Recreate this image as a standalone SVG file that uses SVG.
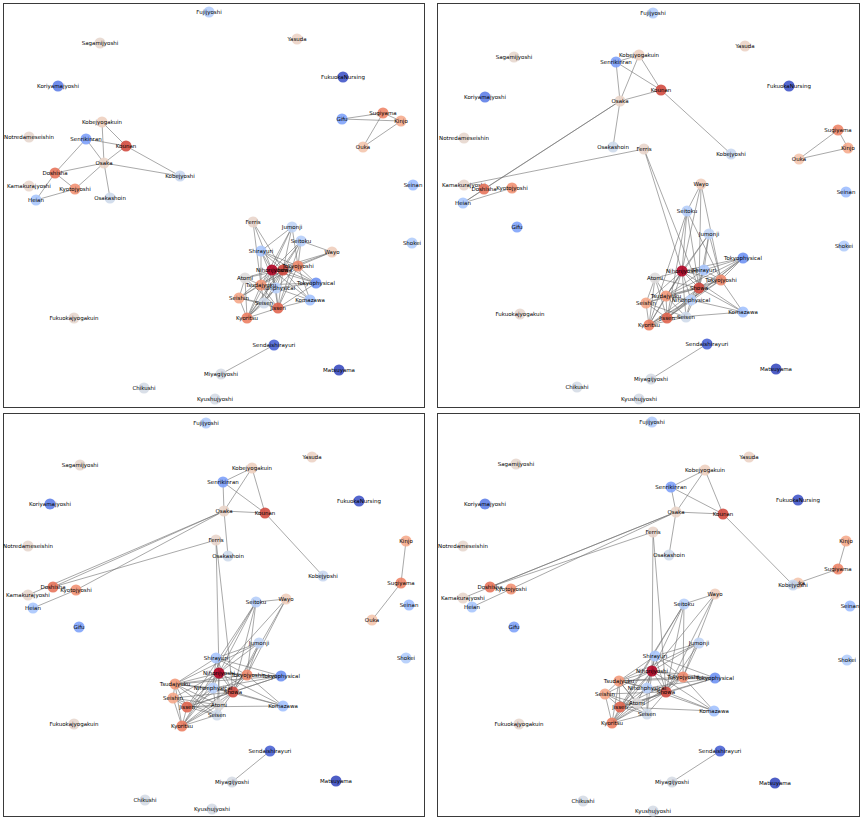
<svg xmlns="http://www.w3.org/2000/svg" width="864" height="820" viewBox="0 0 864 820">
<style>
.bg{fill:#fff}
.frame{fill:none;stroke:#3a3a3a;stroke-width:1}
.e{fill:none;stroke:#6e6e6e;stroke-width:0.8;stroke-opacity:0.75}
.n circle{r:5.5px;fill-opacity:0.9}
.n text{font-family:"DejaVu Sans","Liberation Sans",sans-serif;font-size:5.5px;fill:#000;text-anchor:middle;dominant-baseline:central}
.Nihonjyoshi circle{fill:#b40426}.Showa circle{fill:#d1493f}.Kounan circle{fill:#d24b40}.Jissen circle{fill:#e0654f}
.Doshisha circle{fill:#e7745b}.Kyoritsu circle{fill:#ec7f63}.Sugiyama circle{fill:#ee8669}.Tokyojyoshi circle{fill:#f08b6e}
.Kyotojyoshi circle{fill:#f29274}.Tsudajyuku circle{fill:#f39a7b}.Seishin circle{fill:#f5a788}.Kinjo circle{fill:#f6ac8e}
.Ouka circle{fill:#f4c5ad}.Wayo circle{fill:#efcebd}.Kobejyogakuin circle{fill:#eed0c0}.Yasuda circle{fill:#ecd3c5}
.Osaka circle{fill:#ead5c9}.Ferris circle{fill:#e9d5cb}.Kamakurajyoshi circle{fill:#e8d6cc}.Sagamijyoshi circle{fill:#e7d7ce}
.Notredameseishin circle{fill:#e7d7ce}.Fukuokajyogakuin circle{fill:#e7d7ce}.Atomi circle{fill:#dedcdb}.Miyagijyoshi circle{fill:#d6dce4}
.Chikushi circle{fill:#d5dbe5}.Kyushujyoshi circle{fill:#d5dbe5}.Seisen circle{fill:#cfdaea}.Osakashoin circle{fill:#cedaeb}
.Kobejyoshi circle{fill:#c9d7f0}.Jumonji circle{fill:#c0d4f5}.Nihonphysical circle{fill:#b9d0f9}.Seitoku circle{fill:#b6cefa}
.Shokei circle{fill:#b3cdfb}.Fujijyoshi circle{fill:#b2ccfb}.Shirayuri circle{fill:#aac7fd}.Heian circle{fill:#a9c6fd}
.Komazawa circle{fill:#a3c2fe}.Seinan circle{fill:#9ebeff}.Gifu circle{fill:#80a3fa}.Senrikinran circle{fill:#7ea1fa}
.Tokyophysical circle{fill:#6f92f3}.Koriyamajyoshi circle{fill:#5f7fe8}.Sendaishirayuri circle{fill:#4b64d5}.FukuokaNursing circle{fill:#4257c9}
.Matsuyama circle{fill:#3b4cc0}
</style>
<rect class="bg" x="0" y="0" width="864" height="820"/>
<g id="frames">
<rect class="frame" x="3.5" y="3.5" width="421" height="404"/>
<rect class="frame" x="437.5" y="3.5" width="422" height="404"/>
<rect class="frame" x="3.5" y="413.5" width="421" height="403"/>
<rect class="frame" x="437.5" y="413.5" width="422" height="403"/>
</g>
<g id="connectors">
<path class="e" d="M102 122L104 163M102 122L126 146M86 139L126 146M86 139L104 163M86 139L55 173M126 146L104 163M126 146L180 176M104 163L55 173M104 163L75 189M104 163L180 176M104 163L110 198M55 173L75 189M55 173L36 200M75 189L36 200M342 119L383 113M342 119L401 121M383 113L401 121M383 113L363 147M401 121L363 147M274 345L221 374"/>
<path class="e" d="M272 270L283 270M272 270L298 266M272 270L261 285M272 270L276 288M272 270L278 308M272 270L247 318M272 270L239 298M272 270L264 303M272 270L245 278M272 270L261 251M272 270L292 227M272 270L301 241M272 270L316 283M272 270L310 300M283 270L298 266M283 270L261 285M283 270L276 288M283 270L278 308M283 270L247 318M283 270L239 298M283 270L264 303M283 270L245 278M283 270L261 251M283 270L292 227M283 270L301 241M283 270L316 283M283 270L310 300M283 270L332 252M298 266L261 285M298 266L278 308M298 266L247 318M298 266L292 227M298 266L316 283M298 266L310 300M298 266L301 241M298 266L261 251M298 266L332 252M261 285L278 308M261 285L247 318M261 285L239 298M261 285L264 303M261 285L245 278M261 285L276 288M261 285L261 251M261 285L316 283M278 308L247 318M278 308L239 298M278 308L264 303M278 308L245 278M278 308L276 288M278 308L310 300M278 308L316 283M247 318L239 298M247 318L264 303M247 318L245 278M247 318L276 288M239 298L245 278M239 298L264 303M276 288L316 283M276 288L310 300M276 288L264 303M276 288L261 251M301 241L332 252M301 241L278 308M301 241L247 318M292 227L261 251M292 227L261 285M332 252L272 270M261 251L316 283M253 222L272 270M253 222L283 270M253 222L261 285"/>
<path class="e" d="M616 62L639 55M616 62L620 101M616 62L661 90M639 55L620 101M639 55L661 90M620 101L661 90M620 101L613 147M620 101L484 189M620 101L463 203M644 149L464 185M463 203L512 188M463 203L484 189M661 90L731 154M838 130L848 148M838 130L799 159M848 148L799 159M707 344L651 379"/>
<path class="e" d="M682 271L699 288M682 271L721 280M682 271L666 296M682 271L691 300M682 271L667 318M682 271L649 325M682 271L646 303M682 271L686 317M682 271L655 278M682 271L704 270M682 271L709 234M682 271L687 211M682 271L743 258M682 271L743 312M699 288L721 280M699 288L666 296M699 288L691 300M699 288L667 318M699 288L649 325M699 288L646 303M699 288L686 317M699 288L655 278M699 288L704 270M699 288L709 234M699 288L687 211M699 288L743 258M699 288L743 312M699 288L701 184M721 280L666 296M721 280L667 318M721 280L649 325M721 280L709 234M721 280L743 258M721 280L743 312M721 280L687 211M721 280L704 270M721 280L701 184M666 296L667 318M666 296L649 325M666 296L646 303M666 296L686 317M666 296L655 278M666 296L691 300M666 296L704 270M666 296L743 258M667 318L649 325M667 318L646 303M667 318L686 317M667 318L655 278M667 318L691 300M667 318L743 312M667 318L743 258M649 325L646 303M649 325L686 317M649 325L655 278M649 325L691 300M646 303L655 278M646 303L686 317M691 300L743 258M691 300L743 312M691 300L686 317M691 300L704 270M687 211L701 184M687 211L667 318M687 211L649 325M709 234L704 270M709 234L666 296M701 184L682 271M704 270L743 258M644 149L682 271M644 149L699 288"/>
<path class="e" d="M252 468L223 482M252 468L224 511M252 468L265 513M223 482L224 511M223 482L265 513M224 511L265 513M224 511L228 556M265 513L323 576M224 511L53 587M224 511L28 595M224 511L76 590M216 540L53 587M33 608L76 590M406 541L401 583M401 583L372 620M270 751L232 782"/>
<path class="e" d="M219 673L233 692M219 673L247 675M219 673L175 684M219 673L213 688M219 673L187 707M219 673L182 726M219 673L173 698M219 673L217 715M219 673L219 705M219 673L216 658M219 673L259 643M219 673L256 602M219 673L281 676M219 673L283 706M233 692L247 675M233 692L175 684M233 692L213 688M233 692L187 707M233 692L182 726M233 692L173 698M233 692L217 715M233 692L219 705M233 692L216 658M233 692L259 643M233 692L256 602M233 692L281 676M233 692L283 706M233 692L286 599M247 675L175 684M247 675L187 707M247 675L182 726M247 675L259 643M247 675L281 676M247 675L283 706M247 675L256 602M247 675L216 658M247 675L286 599M175 684L187 707M175 684L182 726M175 684L173 698M175 684L217 715M175 684L219 705M175 684L213 688M175 684L216 658M175 684L281 676M187 707L182 726M187 707L173 698M187 707L217 715M187 707L219 705M187 707L213 688M187 707L283 706M187 707L281 676M182 726L173 698M182 726L217 715M182 726L219 705M182 726L213 688M173 698L219 705M173 698L217 715M213 688L281 676M213 688L283 706M213 688L217 715M213 688L216 658M256 602L286 599M256 602L187 707M256 602L182 726M259 643L216 658M259 643L175 684M286 599L219 673M216 658L281 676M216 540L219 673M216 540L233 692"/>
<path class="e" d="M705 470L671 487M705 470L676 512M705 470L723 514M671 487L676 512M671 487L723 514M676 512L723 514M676 512L669 555M723 514L793 585M676 512L490 587M676 512L463 598M676 512L511 589M653 532L490 587M472 607L511 589M846 541L838 569M838 569L798 583M720 751L672 782"/>
<path class="e" d="M652 671L666 692M652 671L683 677M652 671L619 681M652 671L647 688M652 671L620 707M652 671L612 723M652 671L605 694M652 671L647 714M652 671L637 703M652 671L655 656M652 671L699 643M652 671L684 604M652 671L715 678M652 671L714 711M666 692L683 677M666 692L619 681M666 692L647 688M666 692L620 707M666 692L612 723M666 692L605 694M666 692L647 714M666 692L637 703M666 692L655 656M666 692L699 643M666 692L684 604M666 692L715 678M666 692L714 711M666 692L715 594M683 677L619 681M683 677L620 707M683 677L612 723M683 677L699 643M683 677L715 678M683 677L714 711M683 677L684 604M683 677L655 656M683 677L715 594M619 681L620 707M619 681L612 723M619 681L605 694M619 681L647 714M619 681L637 703M619 681L647 688M619 681L655 656M619 681L715 678M620 707L612 723M620 707L605 694M620 707L647 714M620 707L637 703M620 707L647 688M620 707L714 711M620 707L715 678M612 723L605 694M612 723L647 714M612 723L637 703M612 723L647 688M605 694L637 703M605 694L647 714M647 688L715 678M647 688L714 711M647 688L647 714M647 688L655 656M684 604L715 594M684 604L620 707M684 604L612 723M699 643L655 656M699 643L619 681M715 594L652 671M655 656L715 678M653 532L652 671M653 532L666 692"/>
</g>
<g id="panel1">
<g id="p1-Fujijyoshi" class="n Fujijyoshi" transform="translate(209,12)"><circle/><text>Fujijyoshi</text></g>
<g id="p1-Sagamijyoshi" class="n Sagamijyoshi" transform="translate(100,43)"><circle/><text>Sagamijyoshi</text></g>
<g id="p1-Yasuda" class="n Yasuda" transform="translate(297,39)"><circle/><text>Yasuda</text></g>
<g id="p1-Koriyamajyoshi" class="n Koriyamajyoshi" transform="translate(58,86)"><circle/><text>Koriyamajyoshi</text></g>
<g id="p1-FukuokaNursing" class="n FukuokaNursing" transform="translate(343,77)"><circle/><text>FukuokaNursing</text></g>
<g id="p1-Kobejyogakuin" class="n Kobejyogakuin" transform="translate(102,122)"><circle/><text>Kobejyogakuin</text></g>
<g id="p1-Notredameseishin" class="n Notredameseishin" transform="translate(29,137)"><circle/><text>Notredameseishin</text></g>
<g id="p1-Senrikinran" class="n Senrikinran" transform="translate(86,139)"><circle/><text>Senrikinran</text></g>
<g id="p1-Kounan" class="n Kounan" transform="translate(126,146)"><circle/><text>Kounan</text></g>
<g id="p1-Osaka" class="n Osaka" transform="translate(104,163)"><circle/><text>Osaka</text></g>
<g id="p1-Doshisha" class="n Doshisha" transform="translate(55,173)"><circle/><text>Doshisha</text></g>
<g id="p1-Kobejyoshi" class="n Kobejyoshi" transform="translate(180,176)"><circle/><text>Kobejyoshi</text></g>
<g id="p1-Kamakurajyoshi" class="n Kamakurajyoshi" transform="translate(29,186)"><circle/><text>Kamakurajyoshi</text></g>
<g id="p1-Kyotojyoshi" class="n Kyotojyoshi" transform="translate(75,189)"><circle/><text>Kyotojyoshi</text></g>
<g id="p1-Heian" class="n Heian" transform="translate(36,200)"><circle/><text>Heian</text></g>
<g id="p1-Osakashoin" class="n Osakashoin" transform="translate(110,198)"><circle/><text>Osakashoin</text></g>
<g id="p1-Gifu" class="n Gifu" transform="translate(342,119)"><circle/><text>Gifu</text></g>
<g id="p1-Sugiyama" class="n Sugiyama" transform="translate(383,113)"><circle/><text>Sugiyama</text></g>
<g id="p1-Kinjo" class="n Kinjo" transform="translate(401,121)"><circle/><text>Kinjo</text></g>
<g id="p1-Ouka" class="n Ouka" transform="translate(363,147)"><circle/><text>Ouka</text></g>
<g id="p1-Seinan" class="n Seinan" transform="translate(413,185)"><circle/><text>Seinan</text></g>
<g id="p1-Shokei" class="n Shokei" transform="translate(412,243)"><circle/><text>Shokei</text></g>
<g id="p1-Ferris" class="n Ferris" transform="translate(253,222)"><circle/><text>Ferris</text></g>
<g id="p1-Jumonji" class="n Jumonji" transform="translate(292,227)"><circle/><text>Jumonji</text></g>
<g id="p1-Seitoku" class="n Seitoku" transform="translate(301,241)"><circle/><text>Seitoku</text></g>
<g id="p1-Shirayuri" class="n Shirayuri" transform="translate(261,251)"><circle/><text>Shirayuri</text></g>
<g id="p1-Wayo" class="n Wayo" transform="translate(332,252)"><circle/><text>Wayo</text></g>
<g id="p1-Showa" class="n Showa" transform="translate(283,270)"><circle/><text>Showa</text></g>
<g id="p1-Nihonjyoshi" class="n Nihonjyoshi" transform="translate(272,270)"><circle/><text>Nihonjyoshi</text></g>
<g id="p1-Tokyojyoshi" class="n Tokyojyoshi" transform="translate(298,266)"><circle/><text>Tokyojyoshi</text></g>
<g id="p1-Atomi" class="n Atomi" transform="translate(245,278)"><circle/><text>Atomi</text></g>
<g id="p1-Nihonphysical" class="n Nihonphysical" transform="translate(276,288)"><circle/><text>Nihonphysical</text></g>
<g id="p1-Tsudajyuku" class="n Tsudajyuku" transform="translate(261,285)"><circle/><text>Tsudajyuku</text></g>
<g id="p1-Tokyophysical" class="n Tokyophysical" transform="translate(316,283)"><circle/><text>Tokyophysical</text></g>
<g id="p1-Seishin" class="n Seishin" transform="translate(239,298)"><circle/><text>Seishin</text></g>
<g id="p1-Komazawa" class="n Komazawa" transform="translate(310,300)"><circle/><text>Komazawa</text></g>
<g id="p1-Seisen" class="n Seisen" transform="translate(264,303)"><circle/><text>Seisen</text></g>
<g id="p1-Jissen" class="n Jissen" transform="translate(278,308)"><circle/><text>Jissen</text></g>
<g id="p1-Kyoritsu" class="n Kyoritsu" transform="translate(247,318)"><circle/><text>Kyoritsu</text></g>
<g id="p1-Fukuokajyogakuin" class="n Fukuokajyogakuin" transform="translate(74,318)"><circle/><text>Fukuokajyogakuin</text></g>
<g id="p1-Sendaishirayuri" class="n Sendaishirayuri" transform="translate(274,345)"><circle/><text>Sendaishirayuri</text></g>
<g id="p1-Matsuyama" class="n Matsuyama" transform="translate(339,370)"><circle/><text>Matsuyama</text></g>
<g id="p1-Miyagijyoshi" class="n Miyagijyoshi" transform="translate(221,374)"><circle/><text>Miyagijyoshi</text></g>
<g id="p1-Chikushi" class="n Chikushi" transform="translate(144,388)"><circle/><text>Chikushi</text></g>
<g id="p1-Kyushujyoshi" class="n Kyushujyoshi" transform="translate(215,399)"><circle/><text>Kyushujyoshi</text></g>
</g>
<g id="panel2">
<g id="p2-Fujijyoshi" class="n Fujijyoshi" transform="translate(653,13)"><circle/><text>Fujijyoshi</text></g>
<g id="p2-Sagamijyoshi" class="n Sagamijyoshi" transform="translate(514,57)"><circle/><text>Sagamijyoshi</text></g>
<g id="p2-Yasuda" class="n Yasuda" transform="translate(745,46)"><circle/><text>Yasuda</text></g>
<g id="p2-Senrikinran" class="n Senrikinran" transform="translate(616,62)"><circle/><text>Senrikinran</text></g>
<g id="p2-Kobejyogakuin" class="n Kobejyogakuin" transform="translate(639,55)"><circle/><text>Kobejyogakuin</text></g>
<g id="p2-Koriyamajyoshi" class="n Koriyamajyoshi" transform="translate(485,97)"><circle/><text>Koriyamajyoshi</text></g>
<g id="p2-FukuokaNursing" class="n FukuokaNursing" transform="translate(789,86)"><circle/><text>FukuokaNursing</text></g>
<g id="p2-Kounan" class="n Kounan" transform="translate(661,90)"><circle/><text>Kounan</text></g>
<g id="p2-Osaka" class="n Osaka" transform="translate(620,101)"><circle/><text>Osaka</text></g>
<g id="p2-Notredameseishin" class="n Notredameseishin" transform="translate(464,138)"><circle/><text>Notredameseishin</text></g>
<g id="p2-Osakashoin" class="n Osakashoin" transform="translate(613,147)"><circle/><text>Osakashoin</text></g>
<g id="p2-Ferris" class="n Ferris" transform="translate(644,149)"><circle/><text>Ferris</text></g>
<g id="p2-Sugiyama" class="n Sugiyama" transform="translate(838,130)"><circle/><text>Sugiyama</text></g>
<g id="p2-Kinjo" class="n Kinjo" transform="translate(848,148)"><circle/><text>Kinjo</text></g>
<g id="p2-Kobejyoshi" class="n Kobejyoshi" transform="translate(731,154)"><circle/><text>Kobejyoshi</text></g>
<g id="p2-Ouka" class="n Ouka" transform="translate(799,159)"><circle/><text>Ouka</text></g>
<g id="p2-Kamakurajyoshi" class="n Kamakurajyoshi" transform="translate(464,185)"><circle/><text>Kamakurajyoshi</text></g>
<g id="p2-Doshisha" class="n Doshisha" transform="translate(484,189)"><circle/><text>Doshisha</text></g>
<g id="p2-Kyotojyoshi" class="n Kyotojyoshi" transform="translate(512,188)"><circle/><text>Kyotojyoshi</text></g>
<g id="p2-Heian" class="n Heian" transform="translate(463,203)"><circle/><text>Heian</text></g>
<g id="p2-Seinan" class="n Seinan" transform="translate(846,192)"><circle/><text>Seinan</text></g>
<g id="p2-Gifu" class="n Gifu" transform="translate(517,227)"><circle/><text>Gifu</text></g>
<g id="p2-Shokei" class="n Shokei" transform="translate(844,246)"><circle/><text>Shokei</text></g>
<g id="p2-Wayo" class="n Wayo" transform="translate(701,184)"><circle/><text>Wayo</text></g>
<g id="p2-Seitoku" class="n Seitoku" transform="translate(687,211)"><circle/><text>Seitoku</text></g>
<g id="p2-Jumonji" class="n Jumonji" transform="translate(709,234)"><circle/><text>Jumonji</text></g>
<g id="p2-Tokyophysical" class="n Tokyophysical" transform="translate(743,258)"><circle/><text>Tokyophysical</text></g>
<g id="p2-Atomi" class="n Atomi" transform="translate(655,278)"><circle/><text>Atomi</text></g>
<g id="p2-Nihonjyoshi" class="n Nihonjyoshi" transform="translate(682,271)"><circle/><text>Nihonjyoshi</text></g>
<g id="p2-Shirayuri" class="n Shirayuri" transform="translate(704,270)"><circle/><text>Shirayuri</text></g>
<g id="p2-Tokyojyoshi" class="n Tokyojyoshi" transform="translate(721,280)"><circle/><text>Tokyojyoshi</text></g>
<g id="p2-Showa" class="n Showa" transform="translate(699,288)"><circle/><text>Showa</text></g>
<g id="p2-Tsudajyuku" class="n Tsudajyuku" transform="translate(666,296)"><circle/><text>Tsudajyuku</text></g>
<g id="p2-Nihonphysical" class="n Nihonphysical" transform="translate(691,300)"><circle/><text>Nihonphysical</text></g>
<g id="p2-Seishin" class="n Seishin" transform="translate(646,303)"><circle/><text>Seishin</text></g>
<g id="p2-Komazawa" class="n Komazawa" transform="translate(743,312)"><circle/><text>Komazawa</text></g>
<g id="p2-Seisen" class="n Seisen" transform="translate(686,317)"><circle/><text>Seisen</text></g>
<g id="p2-Jissen" class="n Jissen" transform="translate(667,318)"><circle/><text>Jissen</text></g>
<g id="p2-Kyoritsu" class="n Kyoritsu" transform="translate(649,325)"><circle/><text>Kyoritsu</text></g>
<g id="p2-Fukuokajyogakuin" class="n Fukuokajyogakuin" transform="translate(520,314)"><circle/><text>Fukuokajyogakuin</text></g>
<g id="p2-Sendaishirayuri" class="n Sendaishirayuri" transform="translate(707,344)"><circle/><text>Sendaishirayuri</text></g>
<g id="p2-Matsuyama" class="n Matsuyama" transform="translate(776,369)"><circle/><text>Matsuyama</text></g>
<g id="p2-Miyagijyoshi" class="n Miyagijyoshi" transform="translate(651,379)"><circle/><text>Miyagijyoshi</text></g>
<g id="p2-Chikushi" class="n Chikushi" transform="translate(577,387)"><circle/><text>Chikushi</text></g>
<g id="p2-Kyushujyoshi" class="n Kyushujyoshi" transform="translate(639,399)"><circle/><text>Kyushujyoshi</text></g>
</g>
<g id="panel3">
<g id="p3-Fujijyoshi" class="n Fujijyoshi" transform="translate(206,423)"><circle/><text>Fujijyoshi</text></g>
<g id="p3-Sagamijyoshi" class="n Sagamijyoshi" transform="translate(80,465)"><circle/><text>Sagamijyoshi</text></g>
<g id="p3-Yasuda" class="n Yasuda" transform="translate(312,457)"><circle/><text>Yasuda</text></g>
<g id="p3-Kobejyogakuin" class="n Kobejyogakuin" transform="translate(252,468)"><circle/><text>Kobejyogakuin</text></g>
<g id="p3-Senrikinran" class="n Senrikinran" transform="translate(223,482)"><circle/><text>Senrikinran</text></g>
<g id="p3-FukuokaNursing" class="n FukuokaNursing" transform="translate(359,501)"><circle/><text>FukuokaNursing</text></g>
<g id="p3-Koriyamajyoshi" class="n Koriyamajyoshi" transform="translate(50,504)"><circle/><text>Koriyamajyoshi</text></g>
<g id="p3-Osaka" class="n Osaka" transform="translate(224,511)"><circle/><text>Osaka</text></g>
<g id="p3-Kounan" class="n Kounan" transform="translate(265,513)"><circle/><text>Kounan</text></g>
<g id="p3-Ferris" class="n Ferris" transform="translate(216,540)"><circle/><text>Ferris</text></g>
<g id="p3-Kinjo" class="n Kinjo" transform="translate(406,541)"><circle/><text>Kinjo</text></g>
<g id="p3-Notredameseishin" class="n Notredameseishin" transform="translate(28,546)"><circle/><text>Notredameseishin</text></g>
<g id="p3-Osakashoin" class="n Osakashoin" transform="translate(228,556)"><circle/><text>Osakashoin</text></g>
<g id="p3-Kobejyoshi" class="n Kobejyoshi" transform="translate(323,576)"><circle/><text>Kobejyoshi</text></g>
<g id="p3-Sugiyama" class="n Sugiyama" transform="translate(401,583)"><circle/><text>Sugiyama</text></g>
<g id="p3-Doshisha" class="n Doshisha" transform="translate(53,587)"><circle/><text>Doshisha</text></g>
<g id="p3-Kyotojyoshi" class="n Kyotojyoshi" transform="translate(76,590)"><circle/><text>Kyotojyoshi</text></g>
<g id="p3-Kamakurajyoshi" class="n Kamakurajyoshi" transform="translate(28,595)"><circle/><text>Kamakurajyoshi</text></g>
<g id="p3-Heian" class="n Heian" transform="translate(33,608)"><circle/><text>Heian</text></g>
<g id="p3-Seinan" class="n Seinan" transform="translate(409,605)"><circle/><text>Seinan</text></g>
<g id="p3-Ouka" class="n Ouka" transform="translate(372,620)"><circle/><text>Ouka</text></g>
<g id="p3-Gifu" class="n Gifu" transform="translate(79,627)"><circle/><text>Gifu</text></g>
<g id="p3-Shokei" class="n Shokei" transform="translate(406,658)"><circle/><text>Shokei</text></g>
<g id="p3-Wayo" class="n Wayo" transform="translate(286,599)"><circle/><text>Wayo</text></g>
<g id="p3-Seitoku" class="n Seitoku" transform="translate(256,602)"><circle/><text>Seitoku</text></g>
<g id="p3-Jumonji" class="n Jumonji" transform="translate(259,643)"><circle/><text>Jumonji</text></g>
<g id="p3-Shirayuri" class="n Shirayuri" transform="translate(216,658)"><circle/><text>Shirayuri</text></g>
<g id="p3-Nihonjyoshi" class="n Nihonjyoshi" transform="translate(219,673)"><circle/><text>Nihonjyoshi</text></g>
<g id="p3-Tokyojyoshi" class="n Tokyojyoshi" transform="translate(247,675)"><circle/><text>Tokyojyoshi</text></g>
<g id="p3-Tokyophysical" class="n Tokyophysical" transform="translate(281,676)"><circle/><text>Tokyophysical</text></g>
<g id="p3-Tsudajyuku" class="n Tsudajyuku" transform="translate(175,684)"><circle/><text>Tsudajyuku</text></g>
<g id="p3-Showa" class="n Showa" transform="translate(233,692)"><circle/><text>Showa</text></g>
<g id="p3-Nihonphysical" class="n Nihonphysical" transform="translate(213,688)"><circle/><text>Nihonphysical</text></g>
<g id="p3-Seishin" class="n Seishin" transform="translate(173,698)"><circle/><text>Seishin</text></g>
<g id="p3-Atomi" class="n Atomi" transform="translate(219,705)"><circle/><text>Atomi</text></g>
<g id="p3-Komazawa" class="n Komazawa" transform="translate(283,706)"><circle/><text>Komazawa</text></g>
<g id="p3-Jissen" class="n Jissen" transform="translate(187,707)"><circle/><text>Jissen</text></g>
<g id="p3-Seisen" class="n Seisen" transform="translate(217,715)"><circle/><text>Seisen</text></g>
<g id="p3-Kyoritsu" class="n Kyoritsu" transform="translate(182,726)"><circle/><text>Kyoritsu</text></g>
<g id="p3-Fukuokajyogakuin" class="n Fukuokajyogakuin" transform="translate(74,724)"><circle/><text>Fukuokajyogakuin</text></g>
<g id="p3-Sendaishirayuri" class="n Sendaishirayuri" transform="translate(270,751)"><circle/><text>Sendaishirayuri</text></g>
<g id="p3-Matsuyama" class="n Matsuyama" transform="translate(336,781)"><circle/><text>Matsuyama</text></g>
<g id="p3-Miyagijyoshi" class="n Miyagijyoshi" transform="translate(232,782)"><circle/><text>Miyagijyoshi</text></g>
<g id="p3-Chikushi" class="n Chikushi" transform="translate(145,800)"><circle/><text>Chikushi</text></g>
<g id="p3-Kyushujyoshi" class="n Kyushujyoshi" transform="translate(212,809)"><circle/><text>Kyushujyoshi</text></g>
</g>
<g id="panel4">
<g id="p4-Fujijyoshi" class="n Fujijyoshi" transform="translate(652,422)"><circle/><text>Fujijyoshi</text></g>
<g id="p4-Yasuda" class="n Yasuda" transform="translate(749,457)"><circle/><text>Yasuda</text></g>
<g id="p4-Sagamijyoshi" class="n Sagamijyoshi" transform="translate(516,464)"><circle/><text>Sagamijyoshi</text></g>
<g id="p4-Kobejyogakuin" class="n Kobejyogakuin" transform="translate(705,470)"><circle/><text>Kobejyogakuin</text></g>
<g id="p4-Senrikinran" class="n Senrikinran" transform="translate(671,487)"><circle/><text>Senrikinran</text></g>
<g id="p4-FukuokaNursing" class="n FukuokaNursing" transform="translate(798,500)"><circle/><text>FukuokaNursing</text></g>
<g id="p4-Koriyamajyoshi" class="n Koriyamajyoshi" transform="translate(485,504)"><circle/><text>Koriyamajyoshi</text></g>
<g id="p4-Osaka" class="n Osaka" transform="translate(676,512)"><circle/><text>Osaka</text></g>
<g id="p4-Kounan" class="n Kounan" transform="translate(723,514)"><circle/><text>Kounan</text></g>
<g id="p4-Ferris" class="n Ferris" transform="translate(653,532)"><circle/><text>Ferris</text></g>
<g id="p4-Kinjo" class="n Kinjo" transform="translate(846,541)"><circle/><text>Kinjo</text></g>
<g id="p4-Notredameseishin" class="n Notredameseishin" transform="translate(463,546)"><circle/><text>Notredameseishin</text></g>
<g id="p4-Osakashoin" class="n Osakashoin" transform="translate(669,555)"><circle/><text>Osakashoin</text></g>
<g id="p4-Sugiyama" class="n Sugiyama" transform="translate(838,569)"><circle/><text>Sugiyama</text></g>
<g id="p4-Ouka" class="n Ouka" transform="translate(798,583)"><circle/><text>Ouka</text></g>
<g id="p4-Kobejyoshi" class="n Kobejyoshi" transform="translate(793,585)"><circle/><text>Kobejyoshi</text></g>
<g id="p4-Doshisha" class="n Doshisha" transform="translate(490,587)"><circle/><text>Doshisha</text></g>
<g id="p4-Kyotojyoshi" class="n Kyotojyoshi" transform="translate(511,589)"><circle/><text>Kyotojyoshi</text></g>
<g id="p4-Kamakurajyoshi" class="n Kamakurajyoshi" transform="translate(463,598)"><circle/><text>Kamakurajyoshi</text></g>
<g id="p4-Heian" class="n Heian" transform="translate(472,607)"><circle/><text>Heian</text></g>
<g id="p4-Seinan" class="n Seinan" transform="translate(850,606)"><circle/><text>Seinan</text></g>
<g id="p4-Gifu" class="n Gifu" transform="translate(514,627)"><circle/><text>Gifu</text></g>
<g id="p4-Shokei" class="n Shokei" transform="translate(847,660)"><circle/><text>Shokei</text></g>
<g id="p4-Wayo" class="n Wayo" transform="translate(715,594)"><circle/><text>Wayo</text></g>
<g id="p4-Seitoku" class="n Seitoku" transform="translate(684,604)"><circle/><text>Seitoku</text></g>
<g id="p4-Jumonji" class="n Jumonji" transform="translate(699,643)"><circle/><text>Jumonji</text></g>
<g id="p4-Shirayuri" class="n Shirayuri" transform="translate(655,656)"><circle/><text>Shirayuri</text></g>
<g id="p4-Nihonjyoshi" class="n Nihonjyoshi" transform="translate(652,671)"><circle/><text>Nihonjyoshi</text></g>
<g id="p4-Tokyojyoshi" class="n Tokyojyoshi" transform="translate(683,677)"><circle/><text>Tokyojyoshi</text></g>
<g id="p4-Tokyophysical" class="n Tokyophysical" transform="translate(715,678)"><circle/><text>Tokyophysical</text></g>
<g id="p4-Tsudajyuku" class="n Tsudajyuku" transform="translate(619,681)"><circle/><text>Tsudajyuku</text></g>
<g id="p4-Showa" class="n Showa" transform="translate(666,692)"><circle/><text>Showa</text></g>
<g id="p4-Nihonphysical" class="n Nihonphysical" transform="translate(647,688)"><circle/><text>Nihonphysical</text></g>
<g id="p4-Seishin" class="n Seishin" transform="translate(605,694)"><circle/><text>Seishin</text></g>
<g id="p4-Atomi" class="n Atomi" transform="translate(637,703)"><circle/><text>Atomi</text></g>
<g id="p4-Jissen" class="n Jissen" transform="translate(620,707)"><circle/><text>Jissen</text></g>
<g id="p4-Komazawa" class="n Komazawa" transform="translate(714,711)"><circle/><text>Komazawa</text></g>
<g id="p4-Seisen" class="n Seisen" transform="translate(647,714)"><circle/><text>Seisen</text></g>
<g id="p4-Kyoritsu" class="n Kyoritsu" transform="translate(612,723)"><circle/><text>Kyoritsu</text></g>
<g id="p4-Fukuokajyogakuin" class="n Fukuokajyogakuin" transform="translate(519,724)"><circle/><text>Fukuokajyogakuin</text></g>
<g id="p4-Sendaishirayuri" class="n Sendaishirayuri" transform="translate(720,751)"><circle/><text>Sendaishirayuri</text></g>
<g id="p4-Matsuyama" class="n Matsuyama" transform="translate(775,783)"><circle/><text>Matsuyama</text></g>
<g id="p4-Miyagijyoshi" class="n Miyagijyoshi" transform="translate(672,782)"><circle/><text>Miyagijyoshi</text></g>
<g id="p4-Chikushi" class="n Chikushi" transform="translate(583,801)"><circle/><text>Chikushi</text></g>
<g id="p4-Kyushujyoshi" class="n Kyushujyoshi" transform="translate(653,811)"><circle/><text>Kyushujyoshi</text></g>
</g>
</svg>
